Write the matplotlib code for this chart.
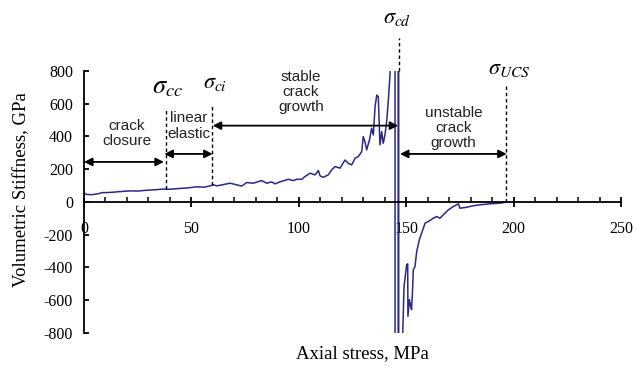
import numpy as np
import matplotlib
matplotlib.use('Agg')
import matplotlib.pyplot as plt

plt.rcParams['font.family'] = 'Liberation Serif'
plt.rcParams['mathtext.fontset'] = 'stix'
plt.rcParams['axes.unicode_minus'] = False

# axial stress (MPa) vs volumetric stiffness (GPa)
stress = [0, 1.2, 4, 7.5, 8, 11, 13.6, 17, 21.4, 25, 29.2, 33, 36.9, 40, 44.7, 48,
          52.5, 56, 58.5, 60.2, 62, 65, 68, 71.1, 73.4, 75.7, 78.8, 82.7, 85.1, 87.4,
          88.9, 91.2, 95.1, 97.4, 99, 101.4, 102.9, 105.2, 107.6, 109.1, 109.9, 111.4,
          113.7, 115.3, 116.9, 119.2, 121.5, 123, 124.6, 126.2, 127.7, 129.3, 130,
          130.8, 131.6, 132.9, 133.9, 134.7, 135.5, 136.3, 137, 137.8, 138.6, 139.3,
          140.1, 140.9, 141.7, 142.5, 144.8, 144.8, 146.3, 146.3, 146.5, 146.5, 148.4,
          149.0, 150.2, 150.7, 150.8, 151.5, 152.1, 152.5, 152.9, 153.3, 154.1, 154.9,
          156.1, 157.2, 158.8, 160.3, 162.6, 164.2, 165.7, 167.3, 169.6, 171.9, 174.3,
          175.0, 178.2, 181.2, 184.4, 189.0, 193.7, 196.5]
stiffness = [55, 45, 44, 52, 56, 57, 59, 63, 67, 66, 71, 74, 78, 77, 82, 85,
             92, 90, 97, 104, 98, 106, 114, 104, 96, 118, 114, 130, 114, 122,
             110, 122, 138, 130, 138, 138, 155, 175, 165, 191, 159, 150,
             165, 195, 216, 206, 256, 236, 226, 267, 277, 307, 399,
             368, 318, 379, 450, 409, 582, 653, 643, 348, 429, 358,
             409, 490, 623, 786, 5000, -5000, -5000, 5000, 5000, -5000, -800,
             -517, -385, -379, -700, -598, -639, -659, -558, -415, -395, -303,
             -232, -191, -130, -120, -100, -90, -100, -79, -49, -29, -12,
             -39, -33, -24, -18, -12, -8, -2]

# characteristic stress levels
thr_names = [r'$\sigma_{cc}$', r'$\sigma_{ci}$', r'$\sigma_{cd}$', r'$\sigma_{UCS}$']
thr_stress = [38, 59.5, 146.5, 196.5]
thr_bottom = [78, 104, 800, 0]
thr_top = [562, 592, 1003, 708]

# stage labels and their arrows
stage_names = ['crack\nclosure', 'linear\nelastic', 'stable\ncrack\ngrowth', 'unstable\ncrack\ngrowth']
stage_start = [0, 37.4, 59.9, 147.1]
stage_end = [37.2, 59.9, 146.3, 196.8]
stage_arrow_y = [244, 293, 466, 293]

fig = plt.figure(figsize=(6.43, 3.68), dpi=100)
ax = fig.add_axes([84/643, 1-332.7/368, 537/643, 261.7/368])

ax.plot(stress, stiffness, color='#2a2888', lw=1.1)
ax.set_xlim(0, 250)
ax.set_ylim(-800, 800)

ax.spines['top'].set_visible(False)
ax.spines['right'].set_visible(False)
ax.spines['bottom'].set_position(('data', 0))
ax.spines['left'].set_linewidth(1.3)
ax.spines['bottom'].set_linewidth(1.3)

ax.set_xticks(np.arange(0, 251, 50))
ax.set_xticks(np.arange(0, 251, 10), minor=True)
ax.set_yticks(np.arange(-800, 801, 200))
ax.tick_params(axis='x', which='major', direction='inout', length=7.5, width=1.3,
               pad=10, labelsize=11.5)
ax.tick_params(axis='x', which='minor', direction='in', length=3.6, width=1.1)
ax.tick_params(axis='y', direction='in', length=3.6, width=1.3, pad=8, labelsize=11.5)

for x, y0, y1 in zip(thr_stress, thr_bottom, thr_top):
    ax.plot([x, x], [y0, y1], color='k', lw=1, ls=(0, (2.5, 2)), clip_on=False)

lab_xy = [(31.7, 666, 19), (55.4, 694, 16), (139.3, 1091, 16), (188, 782, 16)]
for name, (x, y, fs) in zip(thr_names, lab_xy):
    ax.text(x, y, name, fontsize=fs, ha='left', va='baseline', clip_on=False)

for x0, x1, y in zip(stage_start, stage_end, stage_arrow_y):
    ax.annotate('', xy=(x1, y), xytext=(x0, y),
                arrowprops=dict(arrowstyle='<|-|>', color='k', lw=1.3,
                                mutation_scale=12, shrinkA=0, shrinkB=0))

stage_text_xy = [(20.0, 416), (48.9, 464), (101, 672), (172, 450)]
for name, (x, y) in zip(stage_names, stage_text_xy):
    ax.text(x, y, name, fontsize=11, family='Liberation Sans', ha='center',
            va='center', color='#222222', linespacing=1.1)

fig.text(22/643, 1-190/368, 'Volumetric Stiffness, GPa', rotation=90,
         ha='center', va='center', fontsize=13.5)
fig.text(362/643, 1-354/368, 'Axial stress, MPa', ha='center', va='center', fontsize=13.5)

fig.savefig('out.png', dpi=100)
